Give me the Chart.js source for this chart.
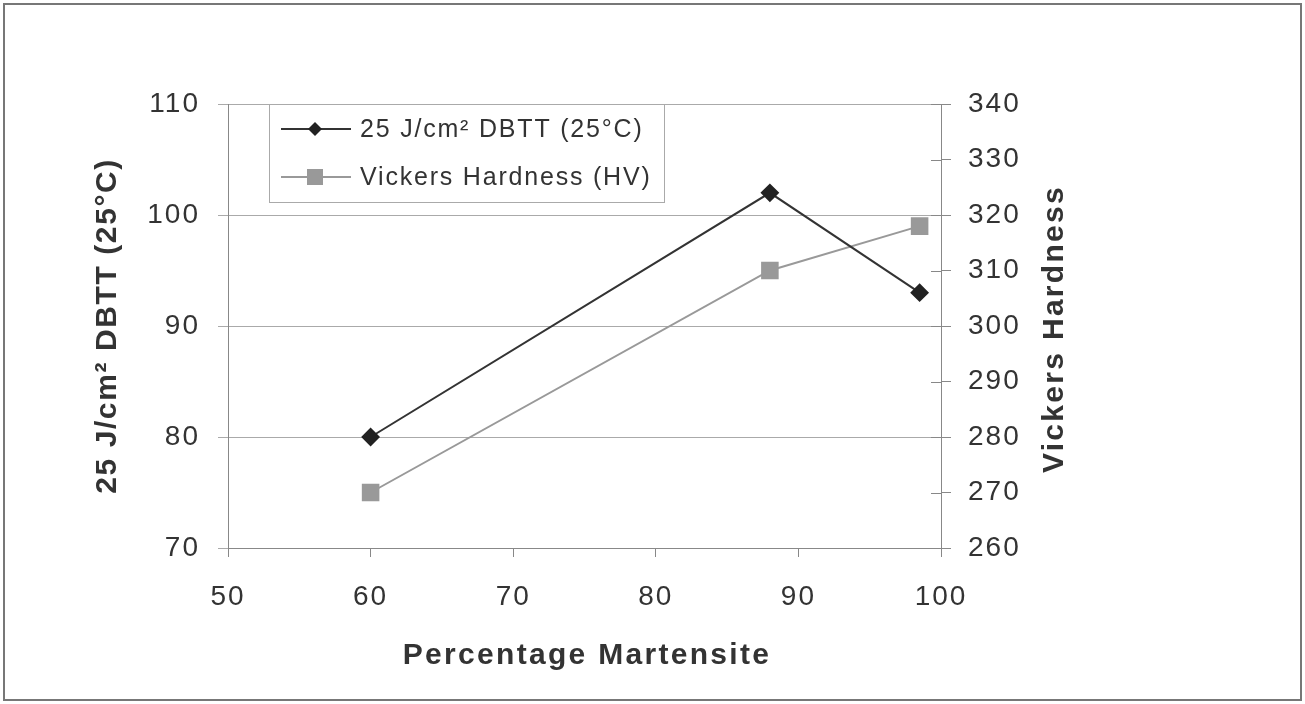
<!DOCTYPE html>
<html>
<head>
<meta charset="utf-8">
<script src="https://cdn.jsdelivr.net/npm/chart.js@4.4.1/dist/chart.umd.min.js"></script>
<style>
  html, body { margin: 0; padding: 0; background: #fff; }
  #wrap { width: 1305px; height: 704px; position: relative; }
</style>
</head>
<body>
<div id="wrap"><canvas id="chart" width="1305" height="704"></canvas></div>
<script>
// data
const martensite = [60, 88, 98.5];
const dbtt = [80, 102, 93];
const hardness = [270, 310, 318];
const xTicks = [50, 60, 70, 80, 90, 100];
const leftTicks = [70, 80, 90, 100, 110];
const rightTicks = [260, 270, 280, 290, 300, 310, 320, 330, 340];

const seriesNames = ['25 J/cm\u00b2 DBTT (25\u00b0C)', 'Vickers Hardness (HV)'];
const xTitle = 'Percentage Martensite';
const leftTitle = '25 J/cm\u00b2 DBTT (25\u00b0C)';
const rightTitle = 'Vickers Hardness';

const FONT = '"Liberation Sans", Arial, sans-serif';
const TEXT = '#333';

function toPoints(xs, ys) {
    return xs.map((x, i) => ({ x: x, y: ys[i] }));
}

// white background, outer frame, and the wide letter spacing of the original
const framePlugin = {
    id: 'frame',
    beforeDraw(chart) {
        const ctx = chart.ctx;
        ctx.save();
        ctx.fillStyle = '#fff';
        ctx.fillRect(0, 0, chart.width, chart.height);
        ctx.strokeStyle = '#777';
        ctx.lineWidth = 2;
        ctx.strokeRect(4, 4, chart.width - 8, chart.height - 8);
        ctx.restore();
        ctx.letterSpacing = '2px';
    }
};

// titles, legend box inside the plot, crossing ticks on the right
const extrasPlugin = {
    id: 'extras',
    afterDraw(chart) {
        const ctx = chart.ctx;
        const area = chart.chartArea;
        const y1 = chart.scales.y1;
        const midY = (area.top + area.bottom) / 2;

        ctx.save();
        // ticks crossing into the plot on the right axis
        ctx.strokeStyle = '#888';
        ctx.lineWidth = 1;
        rightTicks.forEach(v => {
            const py = Math.round(y1.getPixelForValue(v)) + 0.5;
            ctx.beginPath();
            ctx.moveTo(area.right - 10, py);
            ctx.lineTo(area.right, py);
            ctx.stroke();
        });

        // axis titles
        ctx.fillStyle = TEXT;
        ctx.font = 'bold 30px ' + FONT;
        ctx.letterSpacing = '2.3px';
        ctx.textAlign = 'center';
        ctx.textBaseline = 'middle';
        ctx.fillText(xTitle, 587, 656);

        ctx.save();
        ctx.translate(108, midY);
        ctx.rotate(-Math.PI / 2);
        ctx.letterSpacing = '1.6px';
        ctx.fillText(leftTitle, 0, 0);
        ctx.restore();

        ctx.save();
        ctx.translate(1055, midY + 3);
        ctx.rotate(-Math.PI / 2);
        ctx.fillText(rightTitle, 0, 0);
        ctx.restore();
        ctx.restore();

        // legend
        const lx = area.left + 41;
        const ly = area.top;
        ctx.save();
        ctx.fillStyle = '#fff';
        ctx.fillRect(lx, ly, 395, 98);
        ctx.strokeStyle = '#aaa';
        ctx.lineWidth = 1;
        ctx.strokeRect(lx + 0.5, ly + 0.5, 395, 98);
        chart.data.datasets.forEach((ds, i) => {
            const cy = ly + 25 + i * 48;
            ctx.strokeStyle = ds.borderColor;
            ctx.lineWidth = ds.borderWidth;
            ctx.beginPath();
            ctx.moveTo(lx + 12, cy);
            ctx.lineTo(lx + 82, cy);
            ctx.stroke();
            ctx.fillStyle = ds.pointBackgroundColor;
            const mx = lx + 46;
            if (ds.pointStyle === 'rectRot') {
                ctx.beginPath();
                ctx.moveTo(mx, cy - 7);
                ctx.lineTo(mx + 7, cy);
                ctx.lineTo(mx, cy + 7);
                ctx.lineTo(mx - 7, cy);
                ctx.closePath();
                ctx.fill();
            } else {
                ctx.fillRect(mx - 8, cy - 8, 16, 16);
            }
            ctx.fillStyle = TEXT;
            ctx.font = '25px ' + FONT;
            ctx.letterSpacing = '1.8px';
            ctx.textAlign = 'left';
            ctx.textBaseline = 'middle';
            ctx.fillText(ds.label, lx + 91, cy + 1);
        });
        ctx.restore();
    }
};

const ctx = document.getElementById('chart').getContext('2d');

const chart = new Chart(ctx, {
    type: 'line',
    data: {
        datasets: [
            {
                label: seriesNames[0],
                data: toPoints(martensite, dbtt),
                yAxisID: 'y',
                borderColor: '#333',
                borderWidth: 2,
                pointStyle: 'rectRot',
                pointRadius: 8,
                pointBackgroundColor: '#222',
                pointBorderColor: '#222',
                tension: 0,
            },
            {
                label: seriesNames[1],
                data: toPoints(martensite, hardness),
                yAxisID: 'y1',
                borderColor: '#999',
                borderWidth: 2,
                pointStyle: 'rect',
                pointRadius: 11,
                pointBackgroundColor: '#999',
                pointBorderColor: '#999',
                tension: 0,
            },
        ],
    },
    options: {
        responsive: false,
        animation: false,
        layout: {
            padding: { left: 80, right: 200, top: 104, bottom: 20 }
        },
        plugins: {
            legend: { display: false },
            tooltip: { enabled: false },
        },
        scales: {
            x: {
                type: 'linear',
                position: 'bottom',
                min: 50,
                max: 100,
                afterBuildTicks: scale => { scale.ticks = xTicks.map(v => ({ value: v })); },
                afterFit: scale => { scale.height = 136; },
                ticks: {
                    color: TEXT,
                    font: { family: FONT, size: 28 },
                    padding: 23,
                    maxRotation: 0,
                },
                grid: {
                    drawOnChartArea: false,
                    tickLength: 9,
                    color: '#888',
                },
                border: { color: '#888', width: 1 },
            },
            y: {
                type: 'linear',
                position: 'left',
                min: 70,
                max: 110,
                afterBuildTicks: scale => { scale.ticks = leftTicks.map(v => ({ value: v })); },
                afterFit: scale => { scale.width = 148; },
                ticks: {
                    color: TEXT,
                    font: { family: FONT, size: 28 },
                    padding: 18,
                },
                grid: {
                    color: '#aaa',
                    tickLength: 10,
                },
                border: { color: '#888', width: 1 },
            },
            y1: {
                type: 'linear',
                position: 'right',
                min: 260,
                max: 340,
                afterBuildTicks: scale => { scale.ticks = rightTicks.map(v => ({ value: v })); },
                afterFit: scale => { scale.width = 164; },
                ticks: {
                    color: TEXT,
                    font: { family: FONT, size: 28 },
                    padding: 17,
                },
                grid: {
                    drawOnChartArea: false,
                    tickLength: 10,
                    color: '#888',
                },
                border: { color: '#888', width: 1 },
            },
        },
    },
    plugins: [framePlugin, extrasPlugin],
});
</script>
</body>
</html>
